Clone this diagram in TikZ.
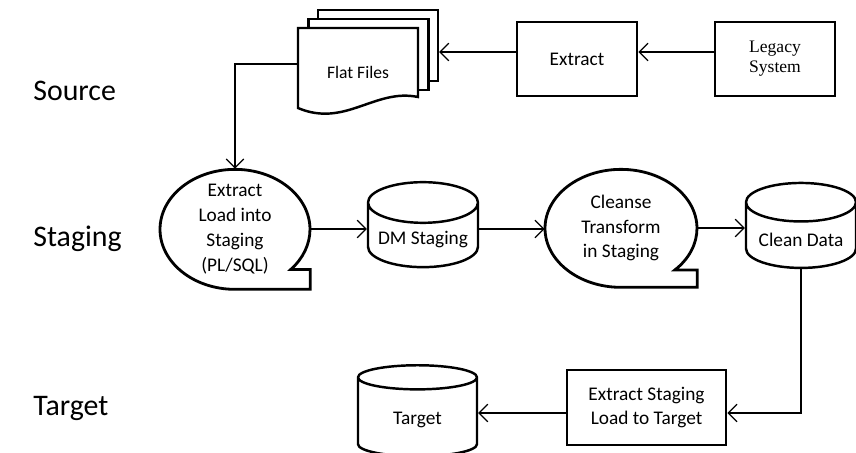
\documentclass[tikz,border=0pt]{standalone}
\usepackage{fontspec}
\setmainfont{Carlito}
\newfontfamily\legacyfont{Liberation Serif}
\usetikzlibrary{shapes.geometric}
\usetikzlibrary{arrows.meta}
\usetikzlibrary{calc}

\tikzset{
    procbox/.style = {rectangle, draw, line width=1.6pt, fill=white,
        minimum width=2.4cm, minimum height=1.48cm, align=center,
        font=\fontsize{11}{14.2}\selectfont},
    datastore/.style = {cylinder, shape border rotate=90, aspect=0.4,
        draw, line width=1.4pt, minimum width=2.2cm, minimum height=1.7cm,
        font=\fontsize{11}{14.2}\selectfont},
    tapetext/.style = {rectangle, minimum width=3cm, minimum height=2.4cm,
        inner sep=0pt, align=center, font=\fontsize{11}{14.2}\selectfont},
    page/.style = {rectangle, draw, line width=1.4pt, fill=white,
        minimum width=2.4cm, minimum height=1.42cm},
    flow/.style = {line width=0.7pt, -{Straight Barb[length=5pt,width=10pt]}},
    rowlabel/.style = {anchor=west, inner sep=0pt, font=\fontsize{17}{20}\selectfont}
}

\begin{document}
\begin{tikzpicture}[x=0.02cm, y=-0.02cm]
    \useasboundingbox (0,0) rectangle (856,453);

    % row labels
    \node[rowlabel] (lsource) at (33,91) {Source};
    \node[rowlabel] (lstaging) at (33,239) {Staging};
    \node[rowlabel] (ltarget) at (33,408) {Target};

    % source row
    \node[procbox, font=\legacyfont\fontsize{10}{11.5}\selectfont] (leg) at (775,59) {Legacy\\System};
    \node[procbox] (ext) at (577,59) {Extract};

    \node[page] (ff3) at (378,45.5) {};
    \node[page] (ff2) at (368.5,54.5) {};
    \draw[line width=1.4pt, fill=white] (298,28) -- (418,28) -- (418,97)
        .. controls (375,88) and (345,128) .. (298,108) -- cycle;
    \node[minimum width=2.4cm, inner sep=0pt, font=\fontsize{10}{12}\selectfont] (flat) at (358,72) {Flat Files};

    % staging row
    \node[tapetext] (load) at (235,229) {Extract\\Load into\\Staging\\(PL/SQL)};
    \draw[line width=1.6pt] (load.south)
        arc[start angle=270, end angle=-42, x radius=1.5cm, y radius=1.2cm]
        -| (load.south -| load.east) -- cycle;

    \node[datastore] (dm) at (423,240) {DM Staging};

    \node[tapetext, minimum width=3.04cm, minimum height=2.36cm] (cln) at (621,228) {Cleanse\\Transform\\in Staging};
    \draw[line width=1.6pt] (cln.south)
        arc[start angle=270, end angle=-45, x radius=1.52cm, y radius=1.18cm]
        -| (cln.south -| cln.east) -- cycle;

    \node[datastore] (cd) at (801,240) {Clean Data};

    % target row
    \node[procbox, minimum width=3.18cm, minimum height=1.5cm] (es) at (646.5,407.5) {Extract Staging\\Load to Target};
    \node[datastore, minimum width=2.38cm, minimum height=1.82cm] (tg) at (417.5,420) {Target};

    % connectors
    \draw[flow] ([yshift=0.14cm]leg.west) -- ([yshift=0.14cm]ext.east);
    \draw[flow] ([yshift=0.14cm]ext.west) -- ([yshift=0.14cm]ext.west -| ff3.east);
    \draw[flow] ([yshift=0.16cm]flat.west) -| (load.north);
    \draw[flow] (load.east) -- (load.east -| dm.west);
    \draw[flow] (dm.east |- load.east) -- (load.east -| cln.west);
    \draw[flow] (cln.east) -- (cln.east -| cd.west);
    \draw[flow] (cd.south) |- ([yshift=-0.11cm]es.east);
    \draw[flow] ([yshift=-0.11cm]es.west) -- ([yshift=-0.11cm]es.west -| tg.east);

\end{tikzpicture}
\end{document}
